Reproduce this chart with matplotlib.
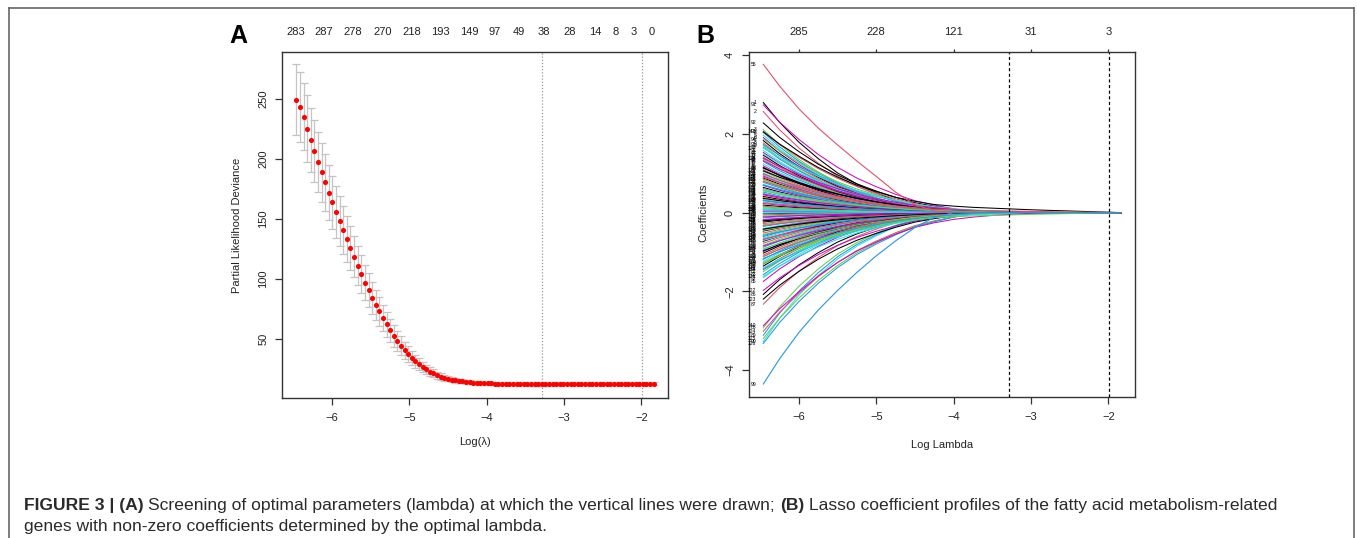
import matplotlib
matplotlib.use("Agg")
import matplotlib.pyplot as plt
import numpy as np
from matplotlib.lines import Line2D

plt.rcParams["font.family"] = ["Liberation Sans", "DejaVu Sans"]

W, H = 1357, 538

# ---------------- panel A: cross-validation curve ----------------
LOG_LAMBDA_FIRST = -6.46
LOG_LAMBDA_LAST = -1.84
N_LAMBDA = 100

CV_MEAN = [249.4, 243.3, 235.5, 225.5, 216.1, 206.9, 197.7, 188.8, 180.5, 171.9,
           163.8, 155.8, 148.3, 140.8, 133.3, 125.8, 118.6, 111.1, 103.9, 96.9,
           90.5, 84.2, 78.3, 72.8, 67.2, 61.9, 56.9, 52.2, 48.0, 44.2,
           40.3, 37.1, 34.0, 31.1, 28.6, 26.3, 24.3, 22.6, 21.0, 19.6,
           18.4, 17.4, 16.6, 15.9, 15.3, 14.8, 14.4, 14.0, 13.7, 13.4,
           13.2, 13.0, 12.9, 12.8, 12.7, 12.6, 12.5, 12.5, 12.4, 12.4,
           12.4, 12.3, 12.3, 12.3, 12.3, 12.2, 12.2, 12.2, 12.2, 12.2,
           12.2, 12.3, 12.3, 12.3, 12.3, 12.3, 12.3, 12.4, 12.4, 12.4,
           12.4, 12.4, 12.4, 12.4, 12.4, 12.4, 12.4, 12.4, 12.4, 12.5,
           12.5, 12.5, 12.5, 12.5, 12.5, 12.5, 12.5, 12.5, 12.5, 12.5]

CV_SE = [29.6, 29.0, 28.3, 27.6, 26.9, 26.1, 25.3, 24.5, 23.7, 22.9,
         22.1, 21.3, 20.5, 19.7, 18.9, 18.1, 17.3, 16.5, 15.7, 14.9,
         14.1, 13.3, 12.5, 11.8, 11.1, 10.4, 9.7, 9.0, 8.3, 7.7,
         7.1, 6.5, 5.9, 5.4, 4.9, 4.4, 4.0, 3.6, 3.3, 3.0,
         2.7, 2.5, 2.3, 2.1, 1.9, 1.8, 1.7, 1.6, 1.5, 1.4,
         1.4, 1.4, 1.3, 1.3, 1.3, 1.3, 1.3, 1.3, 1.3, 1.3,
         1.3, 1.3, 1.3, 1.3, 1.3, 1.3, 1.3, 1.3, 1.3, 1.3,
         1.3, 1.3, 1.3, 1.3, 1.3, 1.3, 1.3, 1.3, 1.3, 1.3,
         1.3, 1.3, 1.3, 1.3, 1.3, 1.3, 1.3, 1.3, 1.3, 1.3,
         1.3, 1.3, 1.3, 1.3, 1.3, 1.3, 1.3, 1.3, 1.3, 1.3]

LAMBDA_MIN_LOG = -3.29
LAMBDA_1SE_LOG = -1.99

TOP_A_POS = [-6.46, -6.10, -5.73, -5.34, -4.97, -4.60, -4.22, -3.90,
             -3.58, -3.26, -2.92, -2.60, -2.33, -2.10, -1.86]
TOP_A_NZERO = [283, 287, 278, 270, 218, 193, 149, 97, 49, 38, 28, 14, 8, 3, 0]

# ---------------- panel B: coefficient paths ----------------
KNOTS = [-6.46, -6.25, -6.0, -5.75, -5.5, -5.25, -5.0, -4.75, -4.5, -4.25,
         -4.0, -3.75, -3.5, -3.25, -3.0, -2.75, -2.5, -2.25, -2.0, -1.84]

PROFILE_FAST = [1.0, 0.82, 0.64, 0.49, 0.36, 0.26, 0.18, 0.11, 0.06, 0.02,
                0, 0, 0, 0, 0, 0, 0, 0, 0, 0]
PROFILE_MEDIUM = [1.0, 0.84, 0.68, 0.54, 0.42, 0.32, 0.24, 0.17, 0.11, 0.07,
                  0.035, 0.01, 0, 0, 0, 0, 0, 0, 0, 0]
PROFILE_SLOW = [1.0, 0.85, 0.70, 0.56, 0.44, 0.34, 0.26, 0.19, 0.13, 0.09,
                0.06, 0.04, 0.025, 0.015, 0.007, 0, 0, 0, 0, 0]
PROFILE_PERSIST = [1.0, 0.85, 0.70, 0.56, 0.44, 0.34, 0.26, 0.19, 0.14, 0.10,
                   0.08, 0.065, 0.055, 0.045, 0.035, 0.027, 0.02, 0.012, 0.005, 0.0]

PATH_55 = [3.77, 3.22, 2.64, 2.15, 1.72, 1.31, 0.92, 0.52, 0.20, 0.04,
           0, 0, 0, 0, 0, 0, 0, 0, 0, 0]
PATH_99 = [-4.36, -3.72, -3.05, -2.48, -1.98, -1.52, -1.10, -0.72, -0.38, -0.12,
           0, 0, 0, 0, 0, 0, 0, 0, 0, 0]

START_FAST = [2.80, 2.57, 2.11, 2.04, 1.97, 1.91, 1.83, 1.77, 1.70, 1.66, 1.58, 1.53,
              1.46, 1.41, 1.36, 1.30, 1.24, 1.19, 1.15, 1.09, 1.05, 1.00, 0.96, 0.93,
              0.88, 0.85, 0.80, 0.77, 0.72, 0.69, 0.64, 0.61, 0.57, 0.52, 0.49, 0.45,
              0.41, 0.38, 0.33, 0.30, 0.27, 0.23, 0.19, 0.16, 0.12, 0.09, 0.05, 0.02,
              -0.03, -0.06, -0.09, -0.13, -0.17, -0.20, -0.24, -0.28, -0.31, -0.35,
              -0.40, -0.43, -0.47, -0.52, -0.56, -0.61, -0.64, -0.69, -0.73, -0.78,
              -0.83, -0.88, -0.94, -0.99, -1.03, -1.08, -1.13, -1.19, -1.24, -1.31,
              -1.36, -1.43, -1.50, -1.58, -1.66, -1.75, -2.08, -2.33, -2.93, -3.12, -3.28]
START_MEDIUM = [2.74, 2.28, 2.07, 1.87, 1.73, 1.49, 1.32, 1.13, 0.98, 0.83, 0.70, 0.59,
                0.47, 0.36, 0.25, 0.14, 0.07, -0.01, -0.11, -0.21, -0.33, -0.45, -0.58,
                -0.71, -0.85, -0.97, -1.11, -1.27, -1.45, -1.62, -1.98, -2.20, -3.02,
                -3.20, -3.33]
START_SLOW = [1.64, 1.38, 1.06, 0.79, 0.55, 0.31, 0.08, -0.18, -0.42, -0.67,
              -0.92, -1.17, -1.40, -2.88]
START_PERSIST = [2.05, 0.9, -1.3]

TOP_B_POS = [-6, -5, -4, -3, -2]
TOP_B_DF = [285, 228, 121, 31, 3]

R_PALETTE = ["black", "#DF536B", "#61D04F", "#2297E6", "#28E2E5", "#CD0BBC"]

CAPTION_1 = [("FIGURE 3 | (A)", "bold"),
             ("Screening of optimal parameters (lambda) at which the vertical lines were drawn;", "normal"),
             ("(B)", "bold"),
             ("Lasso coefficient profiles of the fatty acid metabolism-related", "normal")]
CAPTION_2 = [("genes with non-zero coefficients determined by the optimal lambda.", "normal")]


def px_box(left, top, right, bottom):
    return [left / W, 1 - bottom / H, (right - left) / W, (bottom - top) / H]


def style_axes(ax):
    for s in ax.spines.values():
        s.set_color("#333333")
        s.set_linewidth(1.0)
    ax.tick_params(axis="both", direction="out", length=5, width=0.9,
                   color="#333333", labelsize=8, labelcolor="#222222")
    ax.tick_params(axis="x", pad=6)
    ax.tick_params(axis="y", pad=5)
    for lbl in ax.get_yticklabels():
        lbl.set_rotation(90)
        lbl.set_va("center")


fig = plt.figure(figsize=(W / 100, H / 100), dpi=100)

# ---- A ----
axA = fig.add_axes(px_box(282, 52, 668, 398))
loglam = np.linspace(LOG_LAMBDA_FIRST, LOG_LAMBDA_LAST, N_LAMBDA)
axA.errorbar(loglam, CV_MEAN, yerr=CV_SE, fmt="none", ecolor="#c4c4c4",
             elinewidth=0.9, capsize=2.6, capthick=0.9, zorder=2)
axA.plot(loglam, CV_MEAN, "o", color="red", ms=3.7, mec="none", zorder=3)
for v in (LAMBDA_MIN_LOG, LAMBDA_1SE_LOG):
    axA.axvline(v, color="#999999", lw=0.9, ls=(0, (1, 1.5)), zorder=1)
axA.set_xlim(-6.645, -1.655)
axA.set_ylim(0.5, 289.4)
axA.set_xticks([-6, -5, -4, -3, -2])
axA.set_yticks([50, 100, 150, 200, 250])
style_axes(axA)
for x, n in zip(TOP_A_POS, TOP_A_NZERO):
    axA.annotate(str(n), xy=(x, 1.0), xycoords=("data", "axes fraction"),
                 xytext=(0, 14.5), textcoords="offset points",
                 ha="center", va="center", fontsize=8, color="#222222")

# ---- B ----
axB = fig.add_axes(px_box(749, 52, 1135, 397))
groups = [(START_FAST, PROFILE_FAST), (START_MEDIUM, PROFILE_MEDIUM),
          (START_SLOW, PROFILE_SLOW), (START_PERSIST, PROFILE_PERSIST)]
idx = 0
label_id = 1
for starts, prof in groups:
    prof = np.array(prof)
    for s in starts:
        if label_id in (55, 99):
            label_id += 1
        c = R_PALETTE[idx % 6]
        axB.plot(KNOTS, s * prof, color=c, lw=0.75)
        axB.text(-6.55, s, str(label_id), fontsize=3.6, ha="right", va="center",
                 color="black")
        idx += 1
        label_id += 1
axB.plot(KNOTS, PATH_55, color="#DF536B", lw=0.8)
axB.text(-6.55, PATH_55[0], "55", fontsize=3.6, ha="right", va="center", color="black")
axB.plot(KNOTS, PATH_99, color="#2297E6", lw=0.8)
axB.text(-6.55, PATH_99[0], "99", fontsize=3.6, ha="right", va="center", color="black")

for v in (LAMBDA_MIN_LOG, LAMBDA_1SE_LOG):
    axB.axvline(v, color="black", lw=0.9, ls=(0, (2.5, 2)))
axB.set_xlim(-6.645, -1.655)
axB.set_ylim(-4.69, 4.084)
axB.set_xticks([-6, -5, -4, -3, -2])
axB.set_yticks([-4, -2, 0, 2, 4])
style_axes(axB)
topB = axB.secondary_xaxis("top")
topB.set_xticks(TOP_B_POS)
topB.set_xticklabels([str(d) for d in TOP_B_DF])
topB.tick_params(direction="out", length=2.5, width=0.9, color="#333333",
                 labelsize=8, labelcolor="#222222", pad=8)
topB.spines["top"].set_visible(False)

# axis titles
fig.text(475 / W, 1 - 442 / H, "Log(λ)", ha="center", va="center", fontsize=8, color="#222222")
fig.text(942 / W, 1 - 445 / H, "Log Lambda", ha="center", va="center", fontsize=8, color="#222222")
fig.text(237 / W, 1 - 225 / H, "Partial Likelihood Deviance", rotation=90,
         ha="center", va="center", fontsize=8, color="#222222")
fig.text(703 / W, 1 - 213 / H, "Coefficients", rotation=90,
         ha="center", va="center", fontsize=8, color="#222222")

# panel letters
fig.text(238 / W, 1 - 36 / H, "A", ha="center", va="center", fontsize=18, fontweight="bold")
fig.text(705 / W, 1 - 36 / H, "B", ha="center", va="center", fontsize=18, fontweight="bold")

# outer frame
frame_kw = dict(color="#666666", lw=1.2, transform=fig.transFigure)
fig.add_artist(Line2D([9 / W, 1354 / W], [1 - 8 / H, 1 - 8 / H], **frame_kw))
fig.add_artist(Line2D([9 / W, 9 / W], [1 - 8 / H, 0], **frame_kw))
fig.add_artist(Line2D([1354 / W, 1354 / W], [1 - 8 / H, 0], **frame_kw))

# caption with mixed weights
renderer = fig.canvas.get_renderer()
CAP_SIZE = 12.6
probe = fig.text(0, 0, "a a", fontsize=CAP_SIZE)
probe2 = fig.text(0, 0, "aa", fontsize=CAP_SIZE)
space_w = probe.get_window_extent(renderer).width - probe2.get_window_extent(renderer).width
probe.remove()
probe2.remove()


def draw_line(pieces, x0, baseline):
    x = x0
    for txt, weight in pieces:
        t = fig.text(x / W, 1 - baseline / H, txt, fontsize=CAP_SIZE, fontweight=weight,
                     ha="left", va="baseline", color="#2a2a2a")
        x += t.get_window_extent(renderer).width + space_w


draw_line(CAPTION_1, 24, 510)
draw_line(CAPTION_2, 24, 531)

fig.savefig("out.png", dpi=100)
